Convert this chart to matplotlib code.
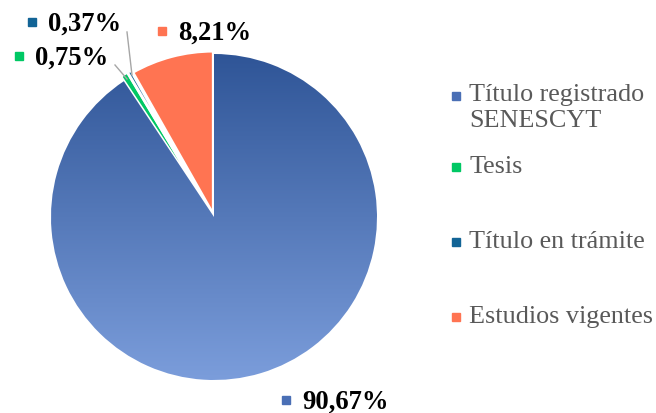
import numpy as np
import matplotlib
matplotlib.use("Agg")
from matplotlib import pyplot as plt
from matplotlib.colors import LinearSegmentedColormap

categories = ["Título registrado\nSENESCYT", "Tesis", "Título en trámite", "Estudios vigentes"]
values = [90.67, 0.75, 0.37, 8.21]
value_labels = ["90,67%", "0,75%", "0,37%", "8,21%"]
colors = ["#4A6FB5", "#00C864", "#126496", "#FF7452"]

plt.rcParams['font.family'] = ['Liberation Serif', 'DejaVu Serif']

W, H = 656, 414
fig = plt.figure(figsize=(W / 100, H / 100), dpi=100)

# pie axes, placed in pixel terms
cx, cy, R = 214, 218, 163
ax = fig.add_axes([(cx - R) / W, (H - cy - R) / H, 2 * R / W, 2 * R / H])
wedges, _ = ax.pie(values, colors=colors, startangle=90, counterclock=False,
                   explode=[0, 0.035, 0.035, 0.018], radius=1,
                   wedgeprops=dict(edgecolor="white", linewidth=2))
ax.set_xlim(-1, 1)
ax.set_ylim(-1, 1)
ax.set_aspect("equal")
ax.axis("off")

# vertical gradient on the big slice
grad_cmap = LinearSegmentedColormap.from_list("g", ["#7B9DDB", "#2F5597"])
grad = np.linspace(0, 1, 256).reshape(-1, 1)
im = ax.imshow(grad, cmap=grad_cmap, extent=[-1, 1, -1, 1], origin="lower",
               aspect="auto", zorder=wedges[0].get_zorder() + 0.1)
im.set_clip_path(wedges[0])

# overlay axes in pixel coords for labels and legend
ov = fig.add_axes([0, 0, 1, 1])
ov.set_xlim(0, W)
ov.set_ylim(H, 0)
ov.axis("off")

# data labels with leader lines
label_pos = [(302, 402), (35, 58), (48, 24), (178, 33)]
for (x, y), lab, col in zip(label_pos, value_labels, colors):
    ov.plot(x - 16, y - 1, marker="s", ms=5.5, color=col, mec=col)
    ov.text(x, y, lab, fontsize=19.2, fontweight="bold", va="center", ha="left", color="black")
ov.plot([115, 127], [66, 80], color="#A6A6A6", lw=1)
ov.plot([127, 132], [33, 76], color="#A6A6A6", lw=1)

# legend
leg_y = [108, 167, 242, 317]
leg_colors = ["#4A6FB5", "#00C864", "#126496", "#FF7452"]
for y, cat, col in zip(leg_y, categories, leg_colors):
    first_y = y - 12 if "\n" in cat else y
    ov.plot(456, first_y + 1, marker="s", ms=5.5, color=col, mec=col)
    ov.text(469, y, cat, fontsize=18.8, va="center", ha="left", color="#595959",
            linespacing=1.2)

fig.savefig("out.png", dpi=100)
